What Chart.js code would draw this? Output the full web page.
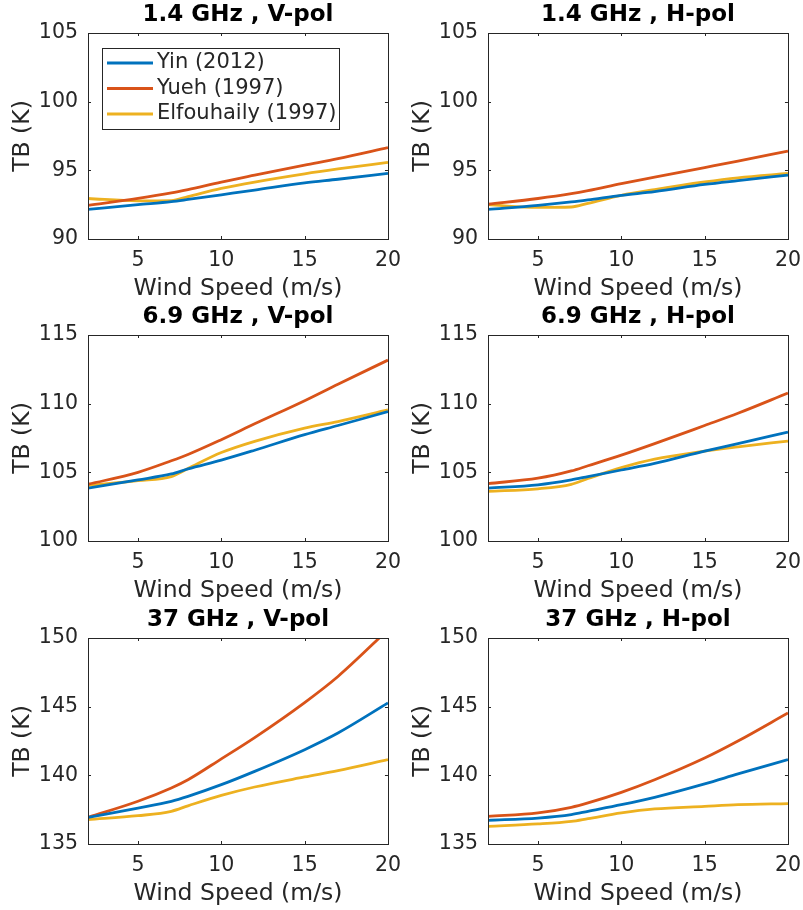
<!DOCTYPE html>
<html lang="en">
<head>
<meta charset="UTF-8">
<title>TB vs wind speed</title>
<script src="https://cdn.jsdelivr.net/npm/chart.js"></script>
<style>
  html, body { margin: 0; padding: 0; background: #fff; overflow: hidden; }
  #wrap { position: relative; width: 803px; height: 910px; }
  #wrap canvas { position: absolute; }
</style>
</head>
<body>
<div id="wrap">
  <canvas id="c1" width="410" height="305" style="left:0;top:0"></canvas>
  <canvas id="c2" width="410" height="305" style="left:400px;top:0"></canvas>
  <canvas id="c3" width="410" height="305" style="left:0;top:302px"></canvas>
  <canvas id="c4" width="410" height="305" style="left:400px;top:302px"></canvas>
  <canvas id="c5" width="410" height="305" style="left:0;top:605px"></canvas>
  <canvas id="c6" width="410" height="305" style="left:400px;top:605px"></canvas>
</div>
<script>
// wind speed samples (m/s)
var windSpeed = [2, 5, 7, 8, 10, 12, 15, 17, 20];
var xTicks = [5, 10, 15, 20];
var seriesNames = ["Yin (2012)", "Yueh (1997)", "Elfouhaily (1997)"];
var seriesColors = ["#0072BD", "#D95319", "#EDB120"];

// 1.4 GHz
var yinV14  = [92.15, 92.50, 92.72, 92.88, 93.22, 93.56, 94.08, 94.35, 94.78];
var yuehV14 = [92.45, 92.95, 93.35, 93.60, 94.15, 94.65, 95.38, 95.85, 96.65];
var elfV14  = [92.95, 92.78, 92.80, 93.09, 93.68, 94.15, 94.75, 95.10, 95.58];
var yinH14  = [92.15, 92.45, 92.70, 92.85, 93.18, 93.45, 93.97, 94.25, 94.65];
var yuehH14 = [92.53, 92.95, 93.30, 93.52, 94.03, 94.50, 95.20, 95.67, 96.40];
var elfH14  = [92.50, 92.30, 92.33, 92.60, 93.18, 93.60, 94.15, 94.45, 94.77];
var yTicks14 = [90, 95, 100, 105];

// 6.9 GHz
var yinV69  = [103.85, 104.45, 104.88, 105.25, 105.89, 106.61, 107.74, 108.41, 109.42];
var yuehV69 = [104.13, 105.00, 105.84, 106.30, 107.38, 108.53, 110.22, 111.42, 113.17];
var elfV69  = [104.05, 104.40, 104.69, 105.28, 106.44, 107.26, 108.22, 108.70, 109.54];
var yinH69  = [103.85, 104.09, 104.45, 104.69, 105.17, 105.65, 106.54, 107.09, 107.93];
var yuehH69 = [104.18, 104.57, 105.10, 105.48, 106.25, 107.09, 108.41, 109.30, 110.77];
var elfH69  = [103.61, 103.80, 104.13, 104.55, 105.34, 105.96, 106.54, 106.85, 107.28];
var yTicks69 = [100, 105, 110, 115];

// 37 GHz
var yinV37  = [136.94, 137.62, 138.11, 138.47, 139.32, 140.29, 141.87, 143.08, 145.27];
var yuehV37 = [136.94, 138.11, 139.08, 139.68, 141.20, 142.75, 145.30, 147.20, 150.60];
var elfV37  = [136.77, 137.06, 137.38, 137.78, 138.54, 139.15, 139.88, 140.34, 141.14];
var yinH37  = [136.72, 136.89, 137.14, 137.38, 137.86, 138.40, 139.38, 140.10, 141.15];
var yuehH37 = [137.01, 137.26, 137.67, 137.99, 138.76, 139.68, 141.26, 142.50, 144.54];
var elfH37  = [136.29, 136.46, 136.65, 136.85, 137.26, 137.55, 137.74, 137.86, 137.94];
var yTicks37 = [135, 140, 145, 150];

var FONT = "'DejaVu Sans', sans-serif";
var AXIS_COLOR = "#262626";

// box around the axes + small inward tick marks, like matlab
var boxAxes = {
  id: "boxAxes",
  afterDatasetsDraw: function (chart) {
    var ctx = chart.ctx, a = chart.chartArea;
    var sx = chart.scales.x, sy = chart.scales.y;
    ctx.save();
    ctx.strokeStyle = AXIS_COLOR;
    ctx.lineWidth = 1;
    ctx.strokeRect(Math.round(a.left) + 0.5, Math.round(a.top) + 0.5,
      Math.round(a.right) - Math.round(a.left), Math.round(a.bottom) - Math.round(a.top));
    ctx.beginPath();
    sx.ticks.forEach(function (t) {
      var px = Math.round(sx.getPixelForValue(t.value)) + 0.5;
      ctx.moveTo(px, a.bottom); ctx.lineTo(px, a.bottom - 3);
      ctx.moveTo(px, a.top); ctx.lineTo(px, a.top + 3);
    });
    sy.ticks.forEach(function (t) {
      var py = Math.round(sy.getPixelForValue(t.value)) + 0.5;
      ctx.moveTo(a.left, py); ctx.lineTo(a.left + 3, py);
      ctx.moveTo(a.right, py); ctx.lineTo(a.right - 3, py);
    });
    ctx.stroke();
    ctx.restore();
  }
};

// legend box inside the first panel
var boxLegend = {
  id: "boxLegend",
  afterDraw: function (chart, args, opts) {
    if (!opts.show) return;
    var ctx = chart.ctx, a = chart.chartArea;
    var x0 = a.left + 14, y0 = a.top + 15, w = 237, h = 81;
    ctx.save();
    ctx.fillStyle = "#fff";
    ctx.fillRect(x0, y0, w, h);
    ctx.strokeStyle = AXIS_COLOR;
    ctx.lineWidth = 1;
    ctx.strokeRect(Math.round(x0) + 0.5, Math.round(y0) + 0.5, w, h);
    ctx.font = "21px " + FONT;
    ctx.textBaseline = "middle";
    chart.data.datasets.forEach(function (ds, i) {
      var yy = y0 + 15 + i * 25.5;
      ctx.strokeStyle = ds.borderColor;
      ctx.lineWidth = 3;
      ctx.beginPath();
      ctx.moveTo(x0 + 5, yy); ctx.lineTo(x0 + 51, yy);
      ctx.stroke();
      ctx.fillStyle = AXIS_COLOR;
      ctx.fillText(ds.label, x0 + 55, yy);
    });
    ctx.restore();
  }
};

function makePanel(id, title, yTicks, yin, yueh, elf, legend) {
  var cols = [yin, yueh, elf];
  var datasets = cols.map(function (vals, i) {
    return {
      label: seriesNames[i],
      data: windSpeed.map(function (w, k) { return { x: w, y: vals[k] }; }),
      borderColor: seriesColors[i],
      borderWidth: 2.8,
      pointRadius: 0,
      fill: false,
      cubicInterpolationMode: "monotone"
    };
  });
  new Chart(document.getElementById(id), {
    type: "line",
    data: { datasets: datasets },
    plugins: [boxAxes, boxLegend],
    options: {
      responsive: false,
      animation: false,
      layout: { padding: { left: 0, right: 20, top: 0, bottom: 0 } },
      plugins: {
        legend: { display: false },
        tooltip: { enabled: false },
        boxLegend: { show: legend },
        title: {
          display: true,
          fullSize: false,
          text: title,
          color: "#000",
          font: { family: FONT, size: 23, weight: "bold", lineHeight: 1 },
          padding: { top: 4, bottom: 6 }
        }
      },
      scales: {
        x: {
          type: "linear",
          min: 2, max: 20,
          afterBuildTicks: function (s) { s.ticks = xTicks.map(function (v) { return { value: v }; }); },
          afterFit: function (s) { s.height = 66; },
          grid: { display: false, drawTicks: false },
          border: { display: false },
          ticks: { color: AXIS_COLOR, padding: 9, maxRotation: 0, font: { family: FONT, size: 20.5 } },
          title: {
            display: true, text: "Wind Speed (m/s)", color: AXIS_COLOR,
            font: { family: FONT, size: 23.5 }, padding: { top: 0, bottom: 2 }
          }
        },
        y: {
          type: "linear",
          min: yTicks[0], max: yTicks[yTicks.length - 1],
          afterBuildTicks: function (s) { s.ticks = yTicks.map(function (v) { return { value: v }; }); },
          afterFit: function (s) { s.width = 88; },
          grid: { display: false, drawTicks: false },
          border: { display: false },
          ticks: { color: AXIS_COLOR, padding: 10, font: { family: FONT, size: 20.5 } },
          title: {
            display: true, text: "TB (K)", color: AXIS_COLOR,
            font: { family: FONT, size: 23.5 }, padding: { top: 9, bottom: 0 }
          }
        }
      }
    }
  });
}

makePanel("c1", "1.4 GHz , V-pol", yTicks14, yinV14, yuehV14, elfV14, true);
makePanel("c2", "1.4 GHz , H-pol", yTicks14, yinH14, yuehH14, elfH14, false);
makePanel("c3", "6.9 GHz , V-pol", yTicks69, yinV69, yuehV69, elfV69, false);
makePanel("c4", "6.9 GHz , H-pol", yTicks69, yinH69, yuehH69, elfH69, false);
makePanel("c5", "37 GHz , V-pol", yTicks37, yinV37, yuehV37, elfV37, false);
makePanel("c6", "37 GHz , H-pol", yTicks37, yinH37, yuehH37, elfH37, false);
</script>
</body>
</html>
